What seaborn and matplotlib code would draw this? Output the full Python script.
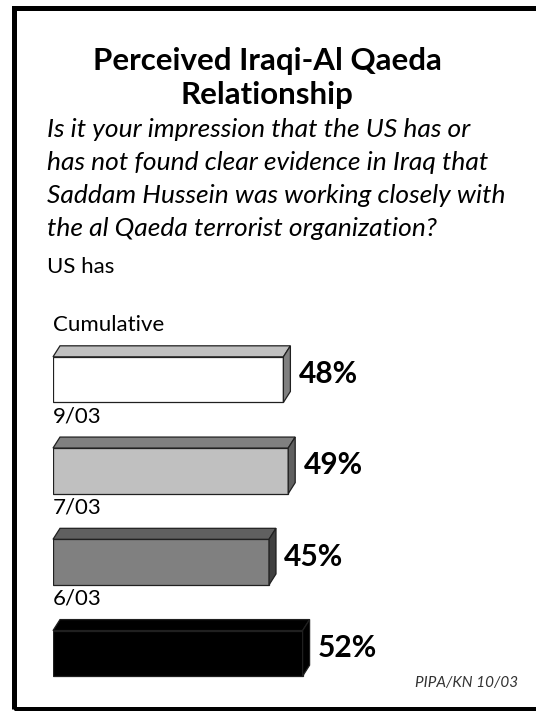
import matplotlib
matplotlib.use("Agg")
import matplotlib.pyplot as plt
import pandas as pd
import seaborn as sns
from matplotlib.patches import Polygon, Rectangle

periods = ["Cumulative", "9/03", "7/03", "6/03"]
shares = [48, 49, 45, 52]
front_colors = ["#ffffff", "#c0c0c0", "#808080", "#000000"]
top_colors = ["#c0c0c0", "#808080", "#606060", "#000000"]
side_colors = ["#808080", "#606060", "#404040", "#000000"]

title_lines = ["Perceived Iraqi-Al Qaeda", "Relationship"]
question_lines = [
    "Is it your impression that the US has or",
    "has not found clear evidence in Iraq that",
    "Saddam Hussein was working closely with",
    "the al Qaeda terrorist organization?",
]
subtitle = "US has"
source = "PIPA/KN 10/03"

W, H = 536, 711
DPI = 100


def fx(px):
    return px / W


def fy(py):
    return 1 - py / H


sns.set_theme(style="white")
plt.rcParams["font.family"] = ["Lato", "DejaVu Sans"]

fig = plt.figure(figsize=(W / DPI, H / DPI), dpi=DPI)
fig.patch.set_facecolor("white")

# frame: left, top and bottom rules (right side runs off the page)
fig.add_artist(Rectangle((fx(14.5), fy(708.5)), fx(560), fy(7.5) - fy(708.5),
                         transform=fig.transFigure, fill=False,
                         edgecolor="black", linewidth=3.6, clip_on=False))

ax = fig.add_axes([fx(53), fy(699), fx(480), (699 - 334) / H])

df = pd.DataFrame({"period": periods, "share": shares})
sns.barplot(data=df, x="share", y="period", hue="period",
            palette=dict(zip(periods, front_colors)), legend=False,
            width=0.5, orient="h", edgecolor="#202020", linewidth=0.9,
            saturation=1, ax=ax)
ax.set_xlim(0, 100)
ax.set_ylim(3.5, -0.5)
ax.set_axis_off()

# depth of the 3D effect, in pixels
inv = ax.transData.inverted()
o = inv.transform((7, 11)) - inv.transform((0, 0))
ox, oy = o[0], o[1]

for i, patch in enumerate(ax.patches[:len(periods)]):
    x0, y0 = patch.get_x(), patch.get_y()
    w, h = patch.get_width(), patch.get_height()
    x1, y1 = x0 + w, y0 + h
    top = [(x0, y0), (x1, y0), (x1 + ox, y0 + oy), (x0 + ox, y0 + oy)]
    side = [(x1, y0), (x1 + ox, y0 + oy), (x1 + ox, y1 + oy), (x1, y1)]
    ax.add_patch(Polygon(top, closed=True, facecolor=top_colors[i],
                         edgecolor="#202020", linewidth=0.9, clip_on=False))
    ax.add_patch(Polygon(side, closed=True, facecolor=side_colors[i],
                         edgecolor="#202020", linewidth=0.9, clip_on=False))
    ax.annotate(f"{shares[i]}%", xy=(x1 + ox, y0 + h / 2 + oy / 2),
                xytext=(6, 0), textcoords="offset points",
                ha="left", va="center", fontsize=21.5, fontweight="bold",
                color="black", annotation_clip=False)
    ax.text(x0, y0 + h / 2 - 0.6, periods[i], ha="left", va="center",
            fontsize=16, color="black", clip_on=False)

# header text
fig.text(fx(267), fy(61), title_lines[0], ha="center", va="center",
         fontsize=22.5, fontweight="bold", color="black")
fig.text(fx(267), fy(95), title_lines[1], ha="center", va="center",
         fontsize=22.5, fontweight="bold", color="black")
for k, line in enumerate(question_lines):
    fig.text(fx(47), fy(137 + 33 * k), line, ha="left", va="baseline",
             fontsize=19, fontstyle="italic", color="black")
fig.text(fx(47), fy(267), subtitle, ha="left", va="center",
         fontsize=16, color="black")
fig.text(fx(518), fy(683), source, ha="right", va="center",
         fontsize=11, fontstyle="italic", color="#333333")

fig.savefig("out.png", dpi=DPI)
